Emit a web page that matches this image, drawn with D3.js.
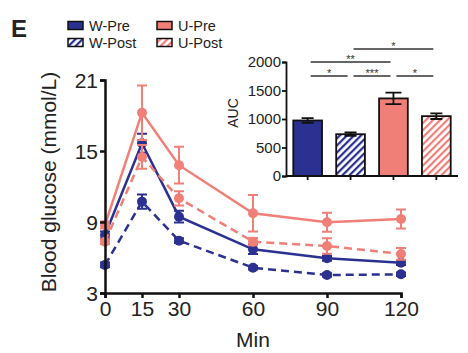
<!DOCTYPE html>
<html>
<head>
<meta charset="utf-8">
<script src="https://cdn.jsdelivr.net/npm/d3@7"></script>
<style>
  body { margin: 0; background: #fff; }
  svg { display: block; font-family: "Liberation Sans", Arial, sans-serif; }
</style>
</head>
<body>
<svg width="468" height="353"></svg>
<script>
// time points (min)
const minutes = [0, 15, 30, 60, 90, 120];
const yTicks = [3, 9, 15, 21];

// blood glucose means and SEM per group
const wPre = [7.9, 15.65, 9.45, 6.69, 5.93, 5.56];
const wPreErr = [0.3, 0.8, 0.5, 0.4, 0.2, 0.2];
const wPost = [5.37, 10.72, 7.42, 5.14, 4.52, 4.58];
const wPostErr = [0.2, 0.6, 0.2, 0.15, 0.15, 0.15];
const uPre = [8.75, 18.24, 13.8, 9.74, 8.98, 9.25];
const uPreErr = [0.3, 2.3, 1.55, 1.55, 0.8, 0.8];
const uPost = [7.34, 14.5, 11.0, 7.34, 6.97, 6.3];
const uPostErr = [0.2, 1.0, 0.6, 0.3, 0.65, 0.5];

// inset AUC
const groups = ["W-Pre", "W-Post", "U-Pre", "U-Post"];
const auc = [974, 733, 1361, 1050];
const aucErr = [40, 30, 100, 50];
const aucTicks = [0, 500, 1000, 1500, 2000];
// significance brackets: [from, to, label, level]
const sigs = [
  ["W-Post", "U-Post", "*", 2],
  ["W-Pre", "U-Pre", "**", 1],
  ["W-Pre", "W-Post", "*", 0],
  ["W-Post", "U-Pre", "***", 0],
  ["U-Pre", "U-Post", "*", 0]
];

const navy = "#2b3190";
const pink = "#f07f78";

const svg = d3.select("svg");

// hatch patterns
const defs = svg.append("defs");
function hatch(id, col, bg) {
  let p = defs.append("pattern").attr("id", id)
    .attr("patternUnits", "userSpaceOnUse")
    .attr("width", 5).attr("height", 5)
    .attr("patternTransform", "rotate(45)");
  p.append("rect").attr("width", 5).attr("height", 5).attr("fill", bg);
  p.append("rect").attr("width", 2.2).attr("height", 5).attr("fill", col);
}
hatch("hatchW", navy, "#ffffff");
hatch("hatchU", pink, "#ffffff");

const fills = {"W-Pre": navy, "W-Post": "url(#hatchW)", "U-Pre": pink, "U-Post": "url(#hatchU)"};

// ---------- main chart
const x = d3.scaleLinear().domain([0, 120]).range([105, 401]);
const y = d3.scaleLinear().domain([3, 21]).range([293, 80]);

const series = [
  {v: wPost, e: wPostErr, c: navy, dash: "8,5"},
  {v: wPre, e: wPreErr, c: navy, dash: null},
  {v: uPost, e: uPostErr, c: pink, dash: "8,5"},
  {v: uPre, e: uPreErr, c: pink, dash: null}
];

const line = d3.line().x((d, i) => x(minutes[i])).y(d => y(d));

series.forEach(s => {
  let g = svg.append("g");
  g.append("path").datum(s.v)
    .attr("d", line)
    .attr("fill", "none")
    .attr("stroke", s.c)
    .attr("stroke-width", 2.5)
    .attr("stroke-dasharray", s.dash);
  // error bars
  g.selectAll(".eb").data(s.v).enter().append("path")
    .attr("d", (d, i) => {
      let cx = x(minutes[i]), y1 = y(d + s.e[i]), y2 = y(d - s.e[i]);
      return `M${cx - 5},${y1}H${cx + 5}M${cx},${y1}V${y2}M${cx - 5},${y2}H${cx + 5}`;
    })
    .attr("fill", "none")
    .attr("stroke", s.c)
    .attr("stroke-width", 2);
  g.selectAll("circle").data(s.v).enter().append("circle")
    .attr("cx", (d, i) => x(minutes[i]))
    .attr("cy", d => y(d))
    .attr("r", 5)
    .attr("fill", s.c);
});

const yAxis = svg.append("g")
  .attr("transform", "translate(105,0)")
  .call(d3.axisLeft(y).tickValues(yTicks).tickSize(5).tickFormat(d3.format("d")));
const xAxis = svg.append("g")
  .attr("transform", "translate(0,293)")
  .call(d3.axisBottom(x).tickValues(minutes).tickSize(5).tickFormat(d3.format("d")));
[yAxis, xAxis].forEach(a => {
  a.select(".domain").attr("stroke", "#111").attr("stroke-width", 2.5);
  a.selectAll(".tick line").attr("stroke", "#111").attr("stroke-width", 2.5);
  a.selectAll("text").attr("font-size", 21).attr("fill", "#222")
    .attr("font-family", "Liberation Sans, Arial, sans-serif");
});
yAxis.selectAll("text").attr("x", -7).attr("dy", "0.35em");
xAxis.selectAll("text").attr("y", 7).attr("dy", "0.75em");

svg.append("text")
  .attr("transform", "translate(56,182) rotate(-90)")
  .attr("text-anchor", "middle")
  .attr("font-size", 21).attr("fill", "#222")
  .text("Blood glucose (mmol/L)");
svg.append("text")
  .attr("x", 253).attr("y", 347)
  .attr("text-anchor", "middle")
  .attr("font-size", 21).attr("fill", "#222")
  .text("Min");

// ---------- inset AUC
const xb = d3.scaleBand().domain(groups).range([286, 458]).paddingInner(0.33).paddingOuter(0.17);
const yb = d3.scaleLinear().domain([0, 2000]).range([176, 62]);

svg.append("g").selectAll("rect").data(groups).enter().append("rect")
  .attr("x", d => xb(d))
  .attr("width", xb.bandwidth())
  .attr("y", (d, i) => yb(auc[i]))
  .attr("height", (d, i) => yb(0) - yb(auc[i]))
  .attr("fill", d => fills[d])
  .attr("stroke", "#111")
  .attr("stroke-width", 1.8);

svg.append("g").selectAll("path").data(groups).enter().append("path")
  .attr("d", (d, i) => {
    let cx = xb(d) + xb.bandwidth() / 2, y1 = yb(auc[i] + aucErr[i]), y2 = yb(auc[i] - aucErr[i]);
    let w = i == 2 ? 8 : 6;
    return `M${cx - w},${y1}H${cx + w}M${cx},${y1}V${y2}M${cx - w},${y2}H${cx + w}`;
  })
  .attr("fill", "none")
  .attr("stroke", "#111")
  .attr("stroke-width", 1.8);

const ybAxis = svg.append("g")
  .attr("transform", "translate(286,0)")
  .call(d3.axisLeft(yb).tickValues(aucTicks).tickSize(4).tickFormat(d3.format("d")));
const xbAxis = svg.append("g")
  .attr("transform", "translate(0,176)")
  .call(d3.axisBottom(xb).tickSize(4).tickFormat(""));
xbAxis.select(".domain").attr("d", "M286,0H458");
[ybAxis, xbAxis].forEach(a => {
  a.select(".domain").attr("stroke", "#111").attr("stroke-width", 1.8);
  a.selectAll(".tick line").attr("stroke", "#111").attr("stroke-width", 1.8);
  a.selectAll("text").attr("font-size", 15).attr("fill", "#222")
    .attr("font-family", "Liberation Sans, Arial, sans-serif");
});
ybAxis.selectAll("text").attr("x", -5);

svg.append("text")
  .attr("transform", "translate(238,113) rotate(-90)")
  .attr("text-anchor", "middle")
  .attr("font-size", 14).attr("fill", "#222")
  .text("AUC");

const sigY = [76, 62, 49];
sigs.forEach(s => {
  let x1 = xb(s[0]) + xb.bandwidth() / 2 + 3, x2 = xb(s[1]) + xb.bandwidth() / 2 - 3;
  let yy = sigY[s[3]];
  svg.append("line").attr("x1", x1).attr("x2", x2).attr("y1", yy).attr("y2", yy)
    .attr("stroke", "#333").attr("stroke-width", 1.5);
  svg.append("text").attr("x", (x1 + x2) / 2).attr("y", yy + 1)
    .attr("text-anchor", "middle").attr("font-size", 11).attr("fill", "#333")
    .text(s[2]);
});

// ---------- panel letter and legend
svg.append("text").attr("x", 11).attr("y", 37)
  .attr("font-size", 24).attr("font-weight", "bold").attr("fill", "#222")
  .text("E");

const legendPos = [[68, 20], [68, 37], [157, 20], [157, 37]];
groups.forEach((gname, i) => {
  let p = legendPos[i];
  svg.append("rect").attr("x", p[0]).attr("y", p[1] + 1.5).attr("width", 15).attr("height", 8)
    .attr("fill", fills[gname]).attr("stroke", "#111").attr("stroke-width", 1.5);
  svg.append("text").attr("x", p[0] + 21).attr("y", p[1] + 11)
    .attr("font-size", 14.5).attr("fill", "#222").text(gname);
});
</script>
</body>
</html>
